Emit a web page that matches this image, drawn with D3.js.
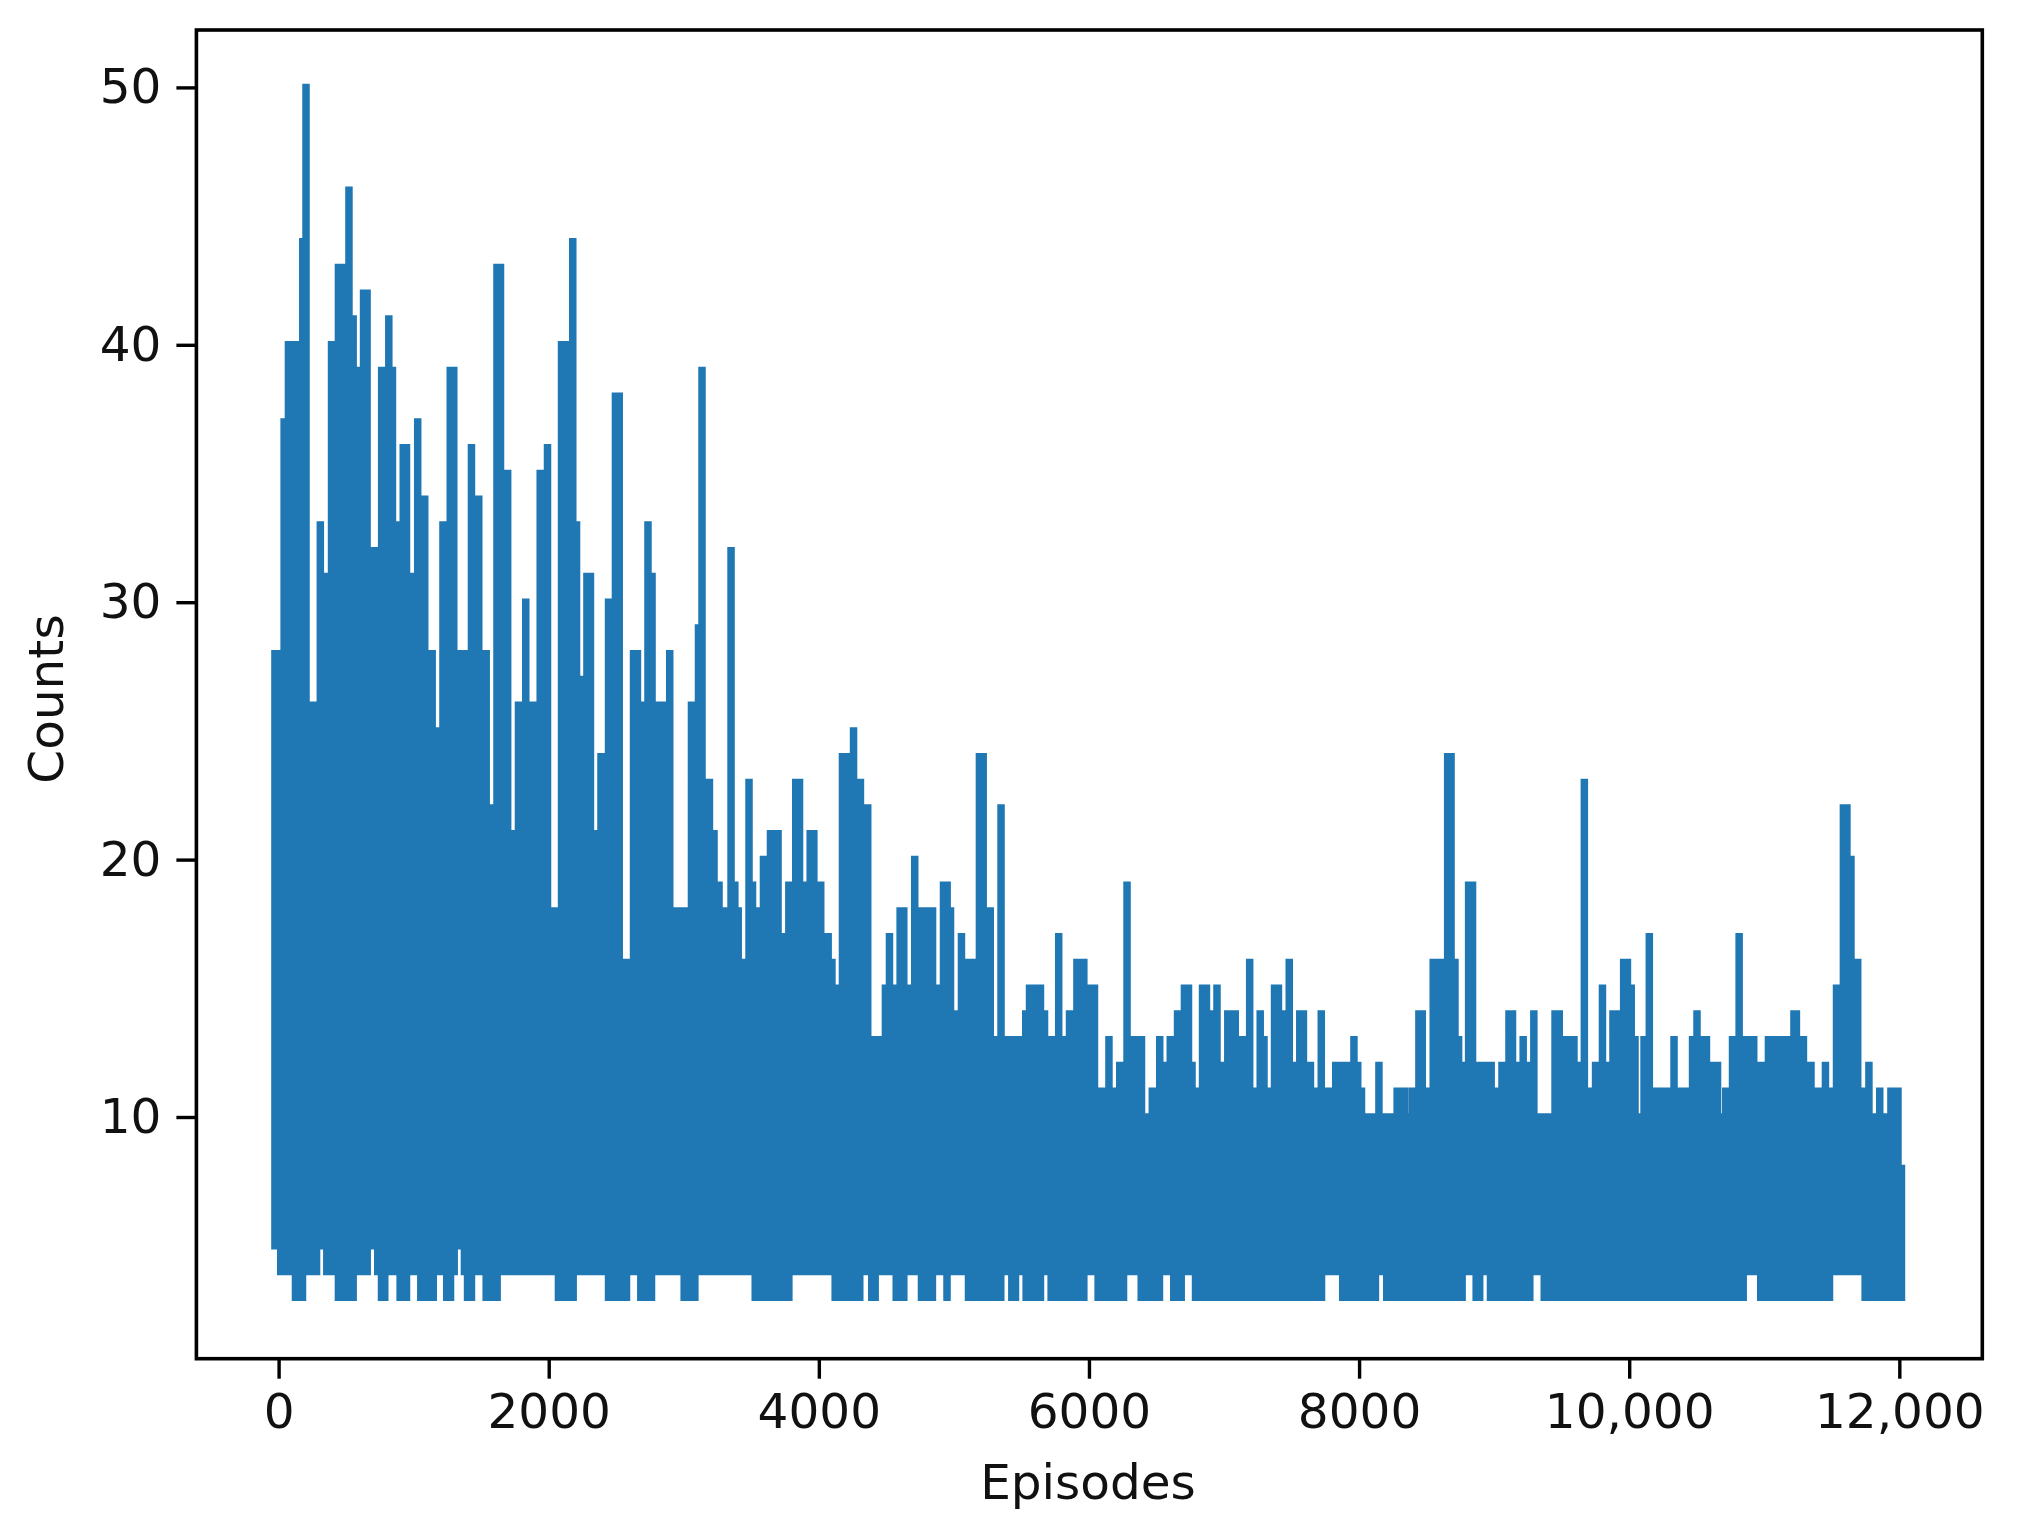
<!DOCTYPE html>
<html>
<head>
<meta charset="utf-8">
<script src="https://cdn.jsdelivr.net/npm/d3@7"></script>
<style>
  html, body { margin: 0; padding: 0; background: #fff; }
  svg { display: block; filter: blur(0.7px); }
  text { font-family: "DejaVu Sans", sans-serif; fill: #111; }
</style>
</head>
<body>
<svg id="chart"></svg>
<script>
const xTicks = [0, 2000, 4000, 6000, 8000, 10000, 12000];
const xTickLabels = ['0', '2000', '4000', '6000', '8000', '10,000', '12,000'];
const yTicks = [10, 20, 30, 40, 50];

// upper envelope of the episode counts left to right
const peakEpisodes = [
  -27, -12, 41, 73, 99, 127, 179, 203, 257, 309, 340, 392, 443, 468, 521, 552, 577, 629, 655, 686,
  710, 763, 816, 843, 871, 923, 947, 977, 1030, 1082, 1137, 1164, 1217, 1271, 1297, 1349, 1376, 1428, 1482, 1537,
  1565, 1617, 1643, 1696, 1750, 1776, 1830, 1884, 1937, 1991, 2043, 2095, 2124, 2178, 2206, 2232, 2283, 2309, 2339, 2387,
  2415, 2443, 2494, 2522, 2574, 2628, 2657, 2683, 2735, 2765, 2791, 2842, 2896, 2948, 2979, 3002, 3030, 3057, 3109, 3135,
  3190, 3224, 3261, 3290, 3320, 3350, 3378, 3403, 3431, 3483, 3509, 3538, 3590, 3642, 3668, 3698, 3749, 3778, 3829, 3857, 3884,
  3936, 3963, 4014, 4069, 4097, 4123, 4175, 4205, 4257, 4308, 4362, 4414, 4442, 4493, 4523, 4550, 4602, 4629, 4656, 4710,
  4738, 4786, 4816, 4842, 4871, 4923, 4950, 4975, 5004, 5056, 5108, 5138, 5189, 5217, 5269, 5297, 5349, 5400, 5430, 5467,
  5504, 5532, 5560, 5586, 5615, 5641, 5671, 5697, 5723, 5776, 5828, 5856, 5911, 5937, 5962, 6014, 6041, 6095, 6148, 6177, 6228,
  6282, 6333, 6363, 6389, 6415, 6469, 6524, 6552, 6602, 6656, 6707, 6737, 6763, 6789, 6841, 6870, 6896, 6948, 6978, 7028,
  7055, 7083, 7135, 7190, 7218, 7268, 7296, 7322, 7374, 7403, 7429, 7483, 7511, 7561, 7588, 7640, 7667, 7720, 7775, 7827,
  7855, 7881, 7910, 7962, 7990, 8018, 8070, 8096, 8147, 8183, 8229, 8282, 8307, 8335, 8362, 8392, 8443, 8468, 8495, 8549,
  8577, 8604, 8656, 8681, 8710, 8737, 8762, 8811, 8840, 8892, 8925, 8955, 8978, 9006, 9058, 9110, 9136, 9162, 9215, 9243,
  9294, 9345, 9371, 9399, 9451, 9482, 9534, 9562, 9591, 9617, 9668, 9699, 9751, 9802, 9828, 9880, 9906, 9959, 9987, 10015,
  10043, 10072, 10110, 10149, 10200, 10228, 10256, 10308, 10332, 10361, 10414, 10469, 10502, 10554, 10572, 10624, 10654, 10683, 10715, 10765, 10814,
  10866, 10894, 10922, 10950, 10980, 11031, 11057, 11087, 11116, 11146, 11168, 11220, 11238, 11290, 11318, 11346, 11398, 11453, 11483, 11535, 11586,
  11612, 11642, 11668, 11692, 11720, 11775, 11805, 11855, 11887, 11938, 11964, 11990, 12016
];
const peakCounts = [
  28, 28, 37, 40, 40, 40, 44, 50, 26, 33, 31, 40, 43, 43, 46, 41, 39, 42, 42, 31,
  32, 39, 41, 39, 33, 36, 36, 31, 37, 34, 28, 25, 33, 39, 39, 28, 28, 36, 34, 28,
  22, 43, 43, 35, 21, 26, 30, 26, 35, 36, 18, 40, 40, 44, 33, 27, 31, 31, 21, 24,
  24, 30, 38, 38, 16, 28, 28, 26, 33, 31, 26, 26, 28, 18, 18, 18, 18, 26, 29, 39,
  23, 21, 19, 18, 18, 32, 19, 18, 16, 23, 19, 18, 20, 21, 21, 21, 17, 19, 23, 23, 19,
  21, 21, 19, 17, 16, 15, 24, 24, 25, 23, 22, 13, 13, 15, 17, 15, 18, 18, 15, 20,
  18, 18, 18, 18, 15, 19, 19, 18, 14, 17, 16, 16, 24, 24, 18, 13, 22, 13, 13, 13,
  13, 14, 15, 15, 15, 15, 14, 12, 13, 17, 13, 14, 16, 16, 16, 15, 15, 11, 13, 11, 12,
  19, 13, 13, 13, 10, 11, 13, 12, 13, 14, 15, 15, 12, 11, 15, 15, 14, 15, 12, 14,
  14, 14, 13, 16, 11, 14, 13, 11, 15, 15, 14, 16, 12, 14, 14, 12, 11, 14, 11, 12,
  12, 12, 12, 13, 12, 11, 10, 10, 12, 10, 10, 11, 11, 11, 10, 11, 14, 14, 11, 16,
  16, 16, 24, 24, 16, 13, 12, 19, 19, 12, 12, 12, 12, 11, 12, 14, 14, 12, 13, 12,
  14, 10, 10, 10, 14, 14, 13, 13, 13, 12, 23, 11, 12, 15, 12, 14, 14, 16, 16, 15,
  13, 10, 13, 17, 11, 11, 11, 11, 13, 11, 11, 13, 14, 13, 13, 12, 12, 10, 11, 13, 17,
  13, 13, 13, 12, 12, 13, 13, 13, 13, 13, 13, 14, 14, 13, 12, 12, 11, 12, 11, 15, 22,
  22, 20, 16, 16, 11, 12, 10, 11, 10, 11, 11, 11, 8
];

// lower envelope: mostly 3 or 4, read the same way
const troughEpisodes = [
  16, 47, 73, 125, 151, 177, 229, 255, 281, 357, 392, 443, 480, 515, 552, 604, 630, 656, 734, 762,
  786, 815, 847, 900, 947, 1000, 1053, 1098, 1145, 1195, 1245, 1273, 1300, 1376, 1399, 1428, 1482, 1537, 1577, 1618, 1670,
  1714, 1758, 1802, 1846, 1890, 1934, 1978, 2021, 2072, 2126, 2181, 2233, 2285, 2338, 2391, 2443, 2487, 2532, 2576, 2629,
  2682, 2722, 2761, 2813, 2860, 2906, 2951, 3003, 3043, 3082, 3133, 3176, 3219, 3262, 3305, 3348, 3391, 3434, 3477, 3529,
  3563, 3601, 3640, 3686, 3732, 3778, 3829, 3877, 3925, 3973, 4021, 4069, 4121, 4166, 4212, 4258, 4303, 4348, 4392, 4417, 4469,
  4495, 4521, 4573, 4601, 4629, 4681, 4708, 4760, 4800, 4841, 4895, 4949, 5002, 5029, 5056, 5108, 5156, 5204, 5252, 5300,
  5347, 5388, 5429, 5456, 5495, 5535, 5588, 5641, 5680, 5720, 5768, 5816, 5864, 5913, 5962, 6015, 6068, 6115, 6162, 6209,
  6256, 6308, 6335, 6387, 6432, 6477, 6522, 6575, 6628, 6655, 6683, 6735, 6789, 6835, 6881, 6927, 6973, 7019, 7065, 7111,
  7157, 7203, 7249, 7295, 7341, 7387, 7433, 7479, 7525, 7571, 7617, 7663, 7692, 7722, 7773, 7800, 7827, 7879, 7927, 7975,
  8023, 8071, 8121, 8163, 8205, 8251, 8297, 8343, 8389, 8435, 8481, 8527, 8573, 8619, 8665, 8711, 8737, 8763, 8815, 8867,
  8893, 8933, 8973, 9020, 9067, 9114, 9161, 9208, 9236, 9264, 9317, 9371, 9417, 9463, 9509, 9555, 9601, 9647, 9693, 9739,
  9785, 9831, 9877, 9923, 9969, 10015, 10061, 10107, 10153, 10199, 10245, 10291, 10337, 10383, 10429, 10475, 10521, 10567, 10613, 10659,
  10705, 10751, 10797, 10844, 10896, 10922, 10974, 11020, 11066, 11112, 11158, 11204, 11250, 11296, 11342, 11388, 11434, 11483, 11535, 11575,
  11615, 11655, 11695, 11747, 11793, 11839, 11885, 11931, 11977, 12016
];
const troughCounts = [
  4, 4, 4, 3, 3, 3, 4, 4, 4, 4, 4, 3, 3, 3, 3, 4, 4, 4, 4, 3,
  3, 4, 4, 3, 3, 4, 3, 3, 3, 4, 3, 3, 4, 4, 3, 3, 4, 3, 3, 3, 4,
  4, 4, 4, 4, 4, 4, 4, 4, 3, 3, 3, 4, 4, 4, 4, 3, 3, 3, 3, 4,
  3, 3, 3, 4, 4, 4, 4, 3, 3, 3, 4, 4, 4, 4, 4, 4, 4, 4, 4, 3,
  3, 3, 3, 3, 3, 3, 4, 4, 4, 4, 4, 4, 3, 3, 3, 3, 3, 4, 3, 3, 4,
  4, 4, 3, 3, 3, 4, 4, 3, 3, 3, 4, 3, 4, 4, 4, 3, 3, 3, 3, 3,
  3, 4, 3, 3, 4, 3, 3, 3, 4, 3, 3, 3, 3, 3, 3, 4, 3, 3, 3, 3,
  3, 4, 4, 3, 3, 3, 3, 4, 3, 3, 3, 4, 3, 3, 3, 3, 3, 3, 3, 3,
  3, 3, 3, 3, 3, 3, 3, 3, 3, 3, 3, 3, 3, 3, 4, 4, 4, 3, 3, 3,
  3, 3, 3, 4, 3, 3, 3, 3, 3, 3, 3, 3, 3, 3, 3, 3, 3, 3, 4, 3,
  3, 4, 3, 3, 3, 3, 3, 3, 3, 3, 4, 3, 3, 3, 3, 3, 3, 3, 3, 3,
  3, 3, 3, 3, 3, 3, 3, 3, 3, 3, 3, 3, 3, 3, 3, 3, 3, 3, 3, 3,
  3, 3, 3, 3, 4, 4, 3, 3, 3, 3, 3, 3, 3, 3, 3, 3, 3, 3, 4, 4,
  4, 4, 4, 3, 3, 3, 3, 3, 3, 3
];
// every column of the band reaches this count, the body is solid from here up
const floorCount = 5;

const width = 2018, height = 1533;
const margins = { left: 196.4, right: 35.7, top: 30, bottom: 174.3 };

const vis = d3.select('#chart').attr('width', width).attr('height', height);

const xScale = d3.scaleLinear()
    .domain([-608.6, 12614.4])
    .range([margins.left, width - margins.right]),
  yScale = d3.scaleLinear()
    .domain([0.61, 52.23])
    .range([height - margins.bottom, margins.top]);

const lineGen = d3.line()
  .defined(d => d !== null)
  .x(d => xScale(d[0]))
  .y(d => yScale(d[1]));

const points = [];
peakEpisodes.forEach((e, i) => points.push([e, peakCounts[i]], [e, floorCount], null));
troughEpisodes.forEach((e, i) => points.push([e, floorCount], [e, troughCounts[i]], null));

vis.append('path')
  .attr('d', lineGen(points))
  .attr('fill', 'none')
  .attr('stroke', '#1f77b4')
  .attr('stroke-width', 7.5)
  .attr('stroke-linecap', 'square');

const xAxis = d3.axisBottom(xScale)
  .tickValues(xTicks)
  .tickFormat((d, i) => xTickLabels[i])
  .tickSize(20)
  .tickPadding(15)
  .tickSizeOuter(0);

const yAxis = d3.axisLeft(yScale)
  .tickValues(yTicks)
  .tickSize(20)
  .tickPadding(15)
  .tickSizeOuter(0);

const gx = vis.append('g')
  .attr('transform', 'translate(0,' + (height - margins.bottom) + ')')
  .call(xAxis);

const gy = vis.append('g')
  .attr('transform', 'translate(' + margins.left + ',0)')
  .call(yAxis);

vis.selectAll('.tick line').attr('stroke', '#000').attr('stroke-width', 3.4);
vis.selectAll('.tick text').style('font-size', '48.5px').attr('fill', '#111');
gx.select('.domain').remove();
gy.select('.domain').remove();

// the frame, all four sides
vis.append('rect')
  .attr('x', margins.left)
  .attr('y', margins.top)
  .attr('width', width - margins.left - margins.right)
  .attr('height', height - margins.top - margins.bottom)
  .attr('fill', 'none')
  .attr('stroke', '#000')
  .attr('stroke-width', 3.6);

vis.append('text')
  .attr('x', 1088)
  .attr('y', 1499)
  .attr('text-anchor', 'middle')
  .style('font-size', '48.5px')
  .text('Episodes');

vis.append('text')
  .attr('transform', 'translate(63,699) rotate(-90)')
  .attr('text-anchor', 'middle')
  .style('font-size', '48.5px')
  .text('Counts');
</script>
</body>
</html>
